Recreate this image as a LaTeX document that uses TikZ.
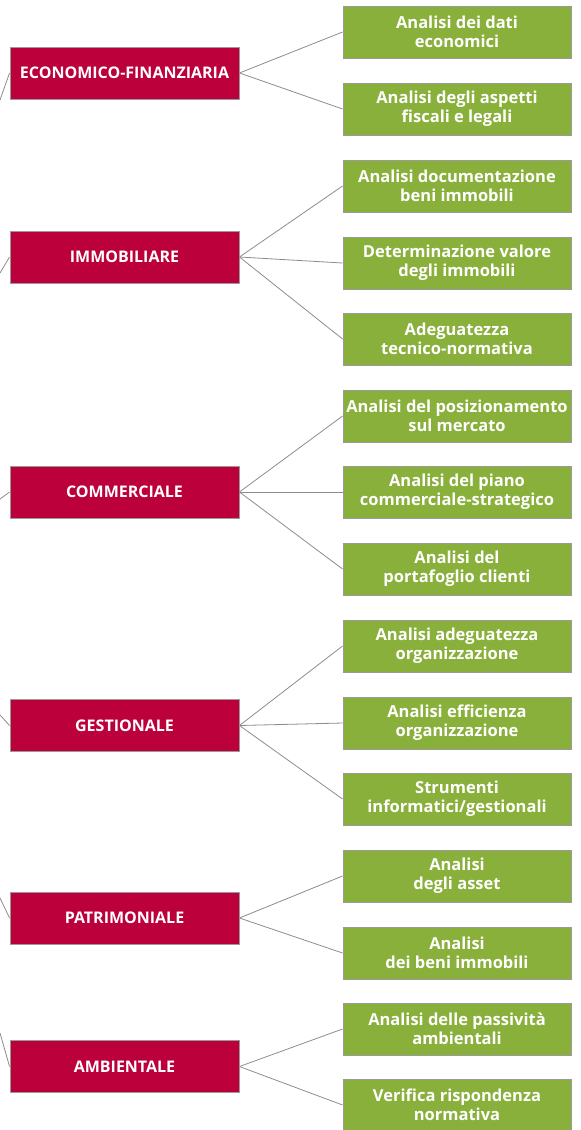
\documentclass[tikz,border=0pt]{standalone}
\usepackage{fontspec}
\setmainfont{Open Sans}
\definecolor{redbox}{HTML}{BC003B}
\definecolor{greenbox}{HTML}{89B03B}
\definecolor{edgegray}{HTML}{9A9A9A}
\definecolor{linegray}{HTML}{8C8C8C}
\tikzset{
  cat/.style={draw=edgegray, line width=0.9pt, fill=redbox, text=white, font=\bfseries\fontsize{16}{19}\selectfont,
    minimum width=229pt, minimum height=52pt, inner sep=0pt, align=center},
  sub/.style={draw=edgegray, line width=0.9pt, fill=greenbox, text=white, font=\bfseries\fontsize{16.5}{19}\selectfont,
    minimum width=228pt, minimum height=52pt, inner sep=0pt, align=center},
  conn/.style={draw=linegray, line width=0.8pt}
}
\begin{document}
\begin{tikzpicture}[x=1pt,y=-1pt]
\useasboundingbox (0,0) rectangle (581,1130);
% category boxes
\node[cat] (eco) at (124.5,73) {ECONOMICO-FINANZIARIA};
\node[cat] (imm) at (124.5,257) {IMMOBILIARE};
\node[cat] (com) at (124.5,492) {COMMERCIALE};
\node[cat] (ges) at (124.5,725.5) {GESTIONALE};
\node[cat] (pat) at (124.5,918) {PATRIMONIALE};
\node[cat] (amb) at (124.5,1066.5) {AMBIENTALE};
% sub boxes
\node[sub] (s1) at (457,32) {Analisi dei dati\\economici};
\node[sub] (s2) at (457,109) {Analisi degli aspetti\\fiscali e legali};
\node[sub] (s3) at (457,186) {Analisi documentazione\\beni immobili};
\node[sub] (s4) at (457,263) {Determinazione valore\\degli immobili};
\node[sub] (s5) at (457,339) {Adeguatezza\\tecnico-normativa};
\node[sub] (s6) at (457,416) {Analisi del posizionamento\\sul mercato};
\node[sub] (s7) at (457,492) {Analisi del piano\\commerciale-strategico};
\node[sub] (s8) at (457,569) {Analisi del\\portafoglio clienti};
\node[sub] (s9) at (457,646) {Analisi adeguatezza\\organizzazione};
\node[sub] (s10) at (457,723) {Analisi efficienza\\organizzazione};
\node[sub] (s11) at (457,799) {Strumenti\\informatici/gestionali};
\node[sub] (s12) at (457,876) {Analisi\\degli asset};
\node[sub] (s13) at (457,953) {Analisi\\dei beni immobili};
\node[sub] (s14) at (457,1029) {Analisi delle passività\\ambientali};
\node[sub] (s15) at (457,1105) {Verifica rispondenza\\normativa};
% free ends on the left
\coordinate (le) at (0,100);
\coordinate (li) at (0,273);
\coordinate (lc) at (0,499);
\coordinate (lg) at (0,715);
\coordinate (lp) at (0,898);
\coordinate (la) at (0,1033);
\draw[conn] (eco.west) -- (le);
\draw[conn] (imm.west) -- (li);
\draw[conn] (com.west) -- (lc);
\draw[conn] (ges.west) -- (lg);
\draw[conn] (pat.west) -- (lp);
\draw[conn] (amb.west) -- (la);
% connectors
\foreach \a/\b in {eco/s1,eco/s2,imm/s3,imm/s4,imm/s5,com/s6,com/s7,com/s8,ges/s9,ges/s10,ges/s11,pat/s12,pat/s13,amb/s14,amb/s15}
  \draw[conn] (\a.east) -- (\b.west);
\end{tikzpicture}
\end{document}
